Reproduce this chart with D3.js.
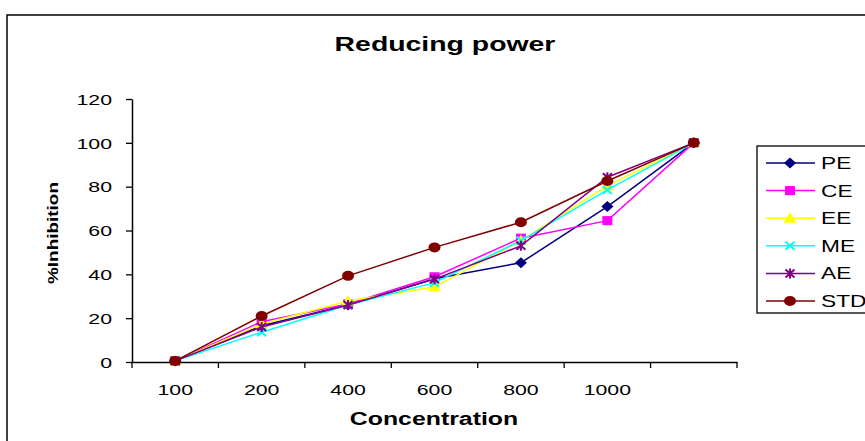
<!DOCTYPE html>
<html><head><meta charset="utf-8">
<script src="https://cdn.jsdelivr.net/npm/d3@7"></script>
<style>body{margin:0;background:#fff}svg{display:block;font-family:"Liberation Sans",Arial,sans-serif}</style>
</head><body>
<svg id="c" width="865" height="441"></svg>
<script>
const categories = ["100","200","400","600","800","1000",""];
const yTicks = [0,20,40,60,80,100,120];
const seriesNames = ["PE","CE","EE","ME","AE","STD"];
const PE  = [0.5, 16.5, 26, 38, 45.3, 70.9, 100];
const CE  = [0.5, 18.4, 26.5, 38.9, 56.5, 64.5, 100];
const EE  = [0.5, 17.3, 27.8, 34.2, 55.4, 80.4, 100];
const ME  = [0.5, 13.6, 26, 36.2, 55.4, 78.5, 100];
const AE  = [0.5, 16, 26, 37.8, 53, 84.3, 100];
const STD = [0.5, 21, 39.3, 52.3, 63.8, 82.6, 100];
const colors = ["#000080","#FF00FF","#FFFF00","#00FFFF","#800080","#800000"];
const symbols = ["diamond","square","triangle","x","star","circle"];

const SX = 1.42; // horizontal stretch of the original picture
const data = [PE,CE,EE,ME,AE,STD];
const svg = d3.select("#c");
svg.append("rect").attr("x",7).attr("y",15).attr("width",870).attr("height",440)
  .attr("fill","none").attr("stroke","#000").attr("stroke-width",1.5);

const x = d3.scaleBand().domain(d3.range(categories.length)).range([132,737]);
const y = d3.scaleLinear().domain([0,120]).range([362,99]);

function stext(px, py, str, size, bold, anchor){
  const g = svg.append("g").attr("transform",`translate(${px},${py}) scale(${SX},1)`);
  return g.append("text").attr("text-anchor",anchor||"middle").attr("font-size",size)
    .attr("font-weight",bold?"bold":"normal").text(str);
}
stext(445,51,"Reducing power",20,true);

const gy = svg.append("g").attr("transform","translate(132,0)")
  .call(d3.axisLeft(y).tickValues(yTicks).tickSize(6).tickPadding(9).tickSizeOuter(0));
gy.selectAll("text").attr("font-size",15).attr("font-family","Liberation Sans, Arial").attr("fill","#000")
  .attr("x",-20/SX).attr("dy","0.35em").attr("transform",`scale(${SX},1)`);
gy.select(".domain").attr("stroke","#000").attr("stroke-width",1.5);
gy.selectAll(".tick line").attr("stroke","#000").attr("stroke-width",1.3);

const gx = svg.append("g").attr("transform","translate(0,362)")
  .call(d3.axisBottom(x).tickFormat(i=>categories[i]).tickSize(0));
gx.selectAll("text").attr("font-size",15).attr("font-family","Liberation Sans, Arial").attr("fill","#000")
  .attr("y",33).attr("dy",0).attr("transform",`scale(${SX},1)`);
gx.select(".domain").attr("stroke","#000").attr("stroke-width",1.5);
const bounds = d3.range(categories.length+1).map(i=>x.range()[0] + i*x.step());
svg.append("g").selectAll("line").data(bounds).join("line")
  .attr("x1",d=>d).attr("x2",d=>d).attr("y1",362).attr("y2",368)
  .attr("stroke","#000").attr("stroke-width",1.3);

stext(434,425,"Concentration",17.5,true);
svg.append("text").attr("transform","translate(58,233) rotate(-90)").attr("text-anchor","middle")
  .attr("font-weight","bold").attr("font-size",15).attr("textLength",102).attr("lengthAdjust","spacingAndGlyphs")
  .text("%Inhibition");

function marker(g, type, color, cx, cy){
  if(type==="diamond") g.append("path").attr("d",`M${cx},${cy-5.5}L${cx+6},${cy}L${cx},${cy+5.5}L${cx-6},${cy}Z`).attr("fill",color);
  else if(type==="square") g.append("rect").attr("x",cx-5).attr("y",cy-4.5).attr("width",10).attr("height",9).attr("fill",color);
  else if(type==="triangle") g.append("path").attr("d",`M${cx},${cy-6}L${cx+6.5},${cy+4.5}L${cx-6.5},${cy+4.5}Z`).attr("fill",color);
  else if(type==="x") g.append("path").attr("d",`M${cx-4.5},${cy-4}L${cx+4.5},${cy+4}M${cx+4.5},${cy-4}L${cx-4.5},${cy+4}`).attr("stroke",color).attr("stroke-width",2);
  else if(type==="star") g.append("path").attr("d",`M${cx-4.5},${cy-4}L${cx+4.5},${cy+4}M${cx+4.5},${cy-4}L${cx-4.5},${cy+4}M${cx},${cy-5}L${cx},${cy+5}`).attr("stroke",color).attr("stroke-width",2);
  else if(type==="circle") g.append("ellipse").attr("cx",cx).attr("cy",cy).attr("rx",6).attr("ry",5).attr("fill",color);
}

const line = d3.line().x((d,i)=>x(i)+x.bandwidth()/2).y(d=>y(d));
data.forEach((s,k)=>{
  const g = svg.append("g");
  g.append("path").datum(s).attr("d",line).attr("fill","none").attr("stroke",colors[k]).attr("stroke-width",1.5);
  s.forEach((v,i)=>marker(g,symbols[k],colors[k],x(i)+x.bandwidth()/2,y(v)));
});

const lg = svg.append("g");
lg.append("rect").attr("x",757).attr("y",146).attr("width",120).attr("height",167)
  .attr("fill","#fff").attr("stroke","#000").attr("stroke-width",1.3);
seriesNames.forEach((n,k)=>{
  const ly = 163 + k*27.6;
  lg.append("line").attr("x1",766).attr("x2",815).attr("y1",ly).attr("y2",ly).attr("stroke",colors[k]).attr("stroke-width",1.5);
  marker(lg,symbols[k],colors[k],790,ly);
  const g = lg.append("g").attr("transform",`translate(821,${ly+6}) scale(${SX},1)`);
  g.append("text").attr("font-size",16).text(n);
});
</script>
</body></html>
